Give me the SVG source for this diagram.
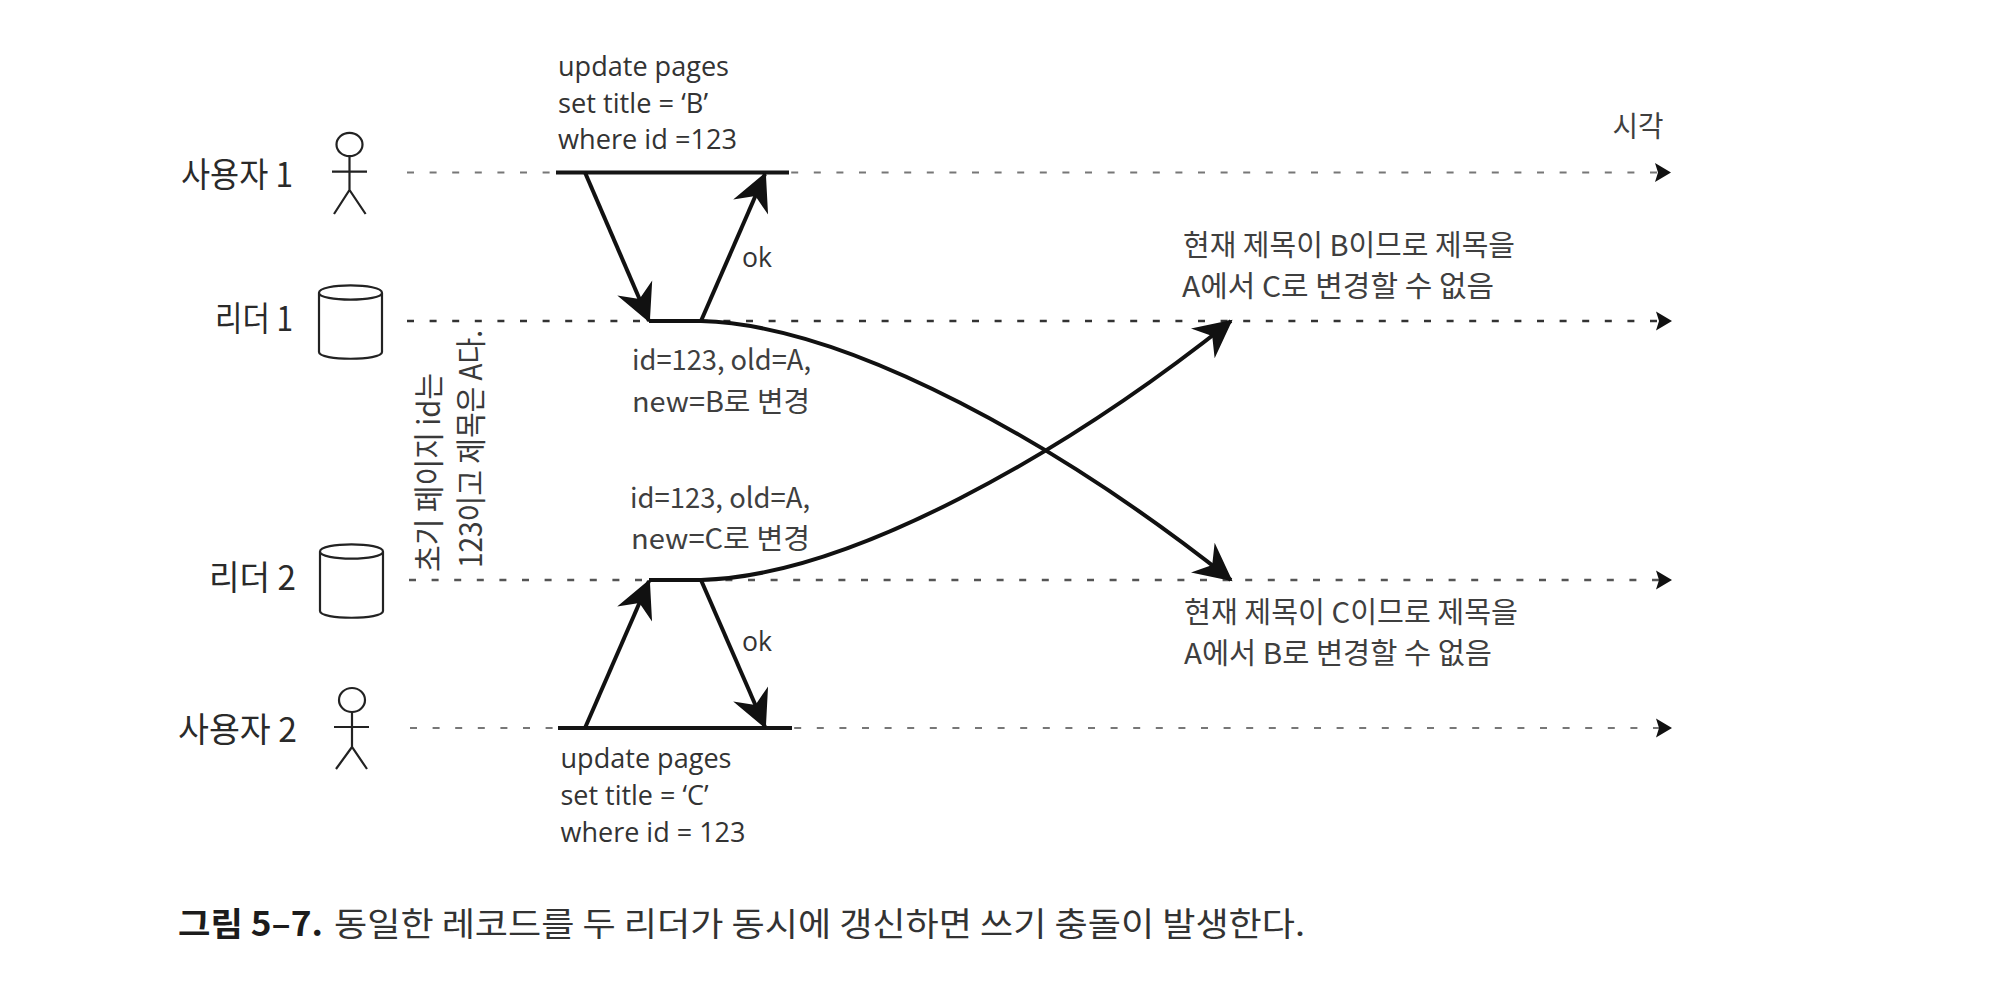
<svg xmlns="http://www.w3.org/2000/svg" width="1991" height="1000" viewBox="0 0 1991 1000">
<style>
text{font-family:"Noto Sans CJK KR","Noto Sans",sans-serif;fill:#2b2b2b}
.en{font-family:"Open Sans","Noto Sans CJK KR",sans-serif;font-size:27px;fill:#333}
.lab{font-size:34px;fill:#2a2a2a}
.txt{font-size:29px;fill:#3f3f3f}
.mid{font-size:28px;fill:#3f3f3f}
.rot{font-size:31px;fill:#3a3a3a}
.cap{font-size:33px;fill:#333}
.capb{font-size:33px;font-weight:700;fill:#1c1c1c}
.fig{fill:none;stroke:#222;stroke-width:2.2}
.time{fill:none;stroke-dasharray:7 15.6}
.bar{fill:none;stroke:#151515;stroke-width:4}
.msg{fill:none;stroke:#111;stroke-width:4;marker-end:url(#head)}
</style>
<defs>
<marker id="head" markerUnits="userSpaceOnUse" markerWidth="44" markerHeight="44" viewBox="-40 -22 44 44" refX="0" refY="0" orient="auto"><path d="M2 0L-36 -19L-24 0L-36 19Z" fill="#111"/></marker>
<marker id="tip" markerUnits="userSpaceOnUse" markerWidth="22" markerHeight="22" viewBox="-18 -11 22 22" refX="0" refY="0" orient="auto"><path d="M0 0L-16 -9.5L-13 0L-16 9.5Z" fill="#111"/></marker>
</defs>
<rect width="1991" height="1000" fill="#fff"/>
<g id="connectors">
<path class="time" stroke="#777" stroke-width="2.2" marker-end="url(#tip)" d="M407 172.5H1671"/>
<path class="time" stroke="#333" stroke-width="2.6" marker-end="url(#tip)" d="M407 321H1672"/>
<path class="time" stroke="#555" stroke-width="2.4" marker-end="url(#tip)" d="M409 580H1672"/>
<path class="time" stroke="#777" stroke-width="2.2" marker-end="url(#tip)" d="M410 728H1672"/>
<path class="bar" d="M556 172.5H789"/>
<path class="bar" d="M558 728H792"/>
<path class="msg" d="M585 172.5L649 321"/>
<path class="msg" d="M701 321L765 174"/>
<path class="msg" d="M649 321H701C850 325 1065 448 1231 580"/>
<path class="msg" d="M649 580H701C850 576 1065 453 1231 321"/>
<path class="msg" d="M585 728L649 581"/>
<path class="msg" d="M701 580L765 727"/>
</g>
<g id="user1">
<text class="lab" x="181" y="187" textLength="112" lengthAdjust="spacingAndGlyphs">사용자 1</text>
<ellipse class="fig" cx="349.5" cy="144.5" rx="13" ry="11.7"/>
<path class="fig" d="M349.5 156V190M332 171.7H367M334 214L349.5 190L365.6 214"/>
</g>
<g id="leader1">
<text class="lab" x="215" y="331" textLength="78" lengthAdjust="spacingAndGlyphs">리더 1</text>
<path class="fig" d="M319 292.7C319 283 382 283 382 292.7C382 302 319 302 319 292.7V352C319 361 382 361 382 352V292.7"/>
</g>
<g id="leader2">
<text class="lab" x="209" y="590" textLength="87" lengthAdjust="spacingAndGlyphs">리더 2</text>
<path class="fig" d="M320 551.5C320 542 383 542 383 551.5C383 561 320 561 320 551.5V611C320 620 383 620 383 611V551.5"/>
</g>
<g id="user2">
<text class="lab" x="178" y="742" textLength="119" lengthAdjust="spacingAndGlyphs">사용자 2</text>
<ellipse class="fig" cx="352" cy="700" rx="13" ry="12"/>
<path class="fig" d="M352 712V747M334 727H369M336 769L352 747L367 769"/>
</g>
<g id="labels">
<text class="en" x="558" y="76" textLength="171" lengthAdjust="spacingAndGlyphs">update pages</text>
<text class="en" x="558" y="112.5" textLength="150" lengthAdjust="spacingAndGlyphs">set title = ‘B’</text>
<text class="en" x="558" y="149" textLength="179" lengthAdjust="spacingAndGlyphs">where id =123</text>
<text class="en" x="742" y="267" textLength="30" lengthAdjust="spacingAndGlyphs">ok</text>
<text class="en" x="742" y="651" textLength="30" lengthAdjust="spacingAndGlyphs">ok</text>
<text class="en" x="560.5" y="768" textLength="171" lengthAdjust="spacingAndGlyphs">update pages</text>
<text class="en" x="560.5" y="805" textLength="148" lengthAdjust="spacingAndGlyphs">set title = ‘C’</text>
<text class="en" x="560.5" y="842" textLength="185" lengthAdjust="spacingAndGlyphs">where id = 123</text>
<text class="mid" x="632" y="370" textLength="179" lengthAdjust="spacingAndGlyphs">id=123, old=A,</text>
<text class="mid" x="632" y="412" textLength="178" lengthAdjust="spacingAndGlyphs">new=B로 변경</text>
<text class="mid" x="630" y="508" textLength="180" lengthAdjust="spacingAndGlyphs">id=123, old=A,</text>
<text class="mid" x="631" y="549" textLength="179" lengthAdjust="spacingAndGlyphs">new=C로 변경</text>
<text class="txt" x="1183" y="256" textLength="332" lengthAdjust="spacingAndGlyphs">현재 제목이 B이므로 제목을</text>
<text class="txt" x="1182" y="297" textLength="312" lengthAdjust="spacingAndGlyphs">A에서 C로 변경할 수 없음</text>
<text class="txt" x="1184" y="623" textLength="334" lengthAdjust="spacingAndGlyphs">현재 제목이 C이므로 제목을</text>
<text class="txt" x="1184" y="664" textLength="308" lengthAdjust="spacingAndGlyphs">A에서 B로 변경할 수 없음</text>
<text class="txt" x="1612.5" y="137" textLength="51" lengthAdjust="spacingAndGlyphs">시각</text>
<text class="rot" transform="translate(440 572) rotate(-90)" textLength="199" lengthAdjust="spacingAndGlyphs">초기 페이지 id는</text>
<text class="rot" transform="translate(482 568) rotate(-90)" textLength="238" lengthAdjust="spacingAndGlyphs">123이고 제목은 A다.</text>
<text class="capb" x="178" y="936" textLength="145" lengthAdjust="spacingAndGlyphs">그림 5–7.</text>
<text class="cap" x="334" y="936" textLength="971" lengthAdjust="spacingAndGlyphs">동일한 레코드를 두 리더가 동시에 갱신하면 쓰기 충돌이 발생한다.</text>
</g>
</svg>
